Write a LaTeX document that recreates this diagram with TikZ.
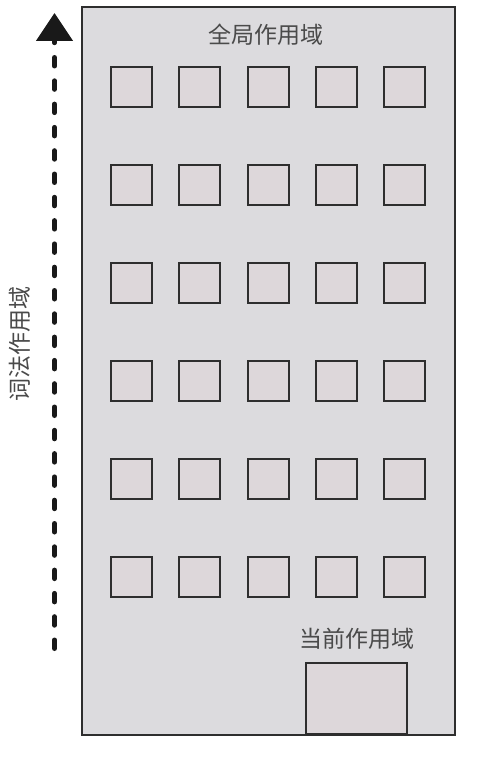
\documentclass[tikz,border=0pt]{standalone}
\usepackage{fontspec}
\newfontfamily\cjk{Noto Sans CJK SC}
\usetikzlibrary{arrows.meta}
\definecolor{wallfill}{HTML}{DCDBDE}
\definecolor{winfill}{HTML}{DDD7DA}
\definecolor{edge}{HTML}{2E2E2E}
\definecolor{txt}{HTML}{4A4A4A}
\tikzset{
  wall/.style={draw=edge, line width=2pt, fill=wallfill},
  win/.style={draw=edge, line width=2pt, fill=winfill},
  lbl/.style={font=\cjk\fontsize{23}{23}\selectfont, text=txt, inner sep=0pt},
  scopearrow/.style={line width=5pt, draw=black!90, line cap=round, dash pattern=on 8.5pt off 14.8pt, -{Triangle[length=28pt,width=36pt]}}
}
\begin{document}
\begin{tikzpicture}[x=1pt,y=-1pt]
\useasboundingbox (0,0) rectangle (492,757);
\fill[white] (0,0) rectangle (492,757);
\draw[wall] (82,7) rectangle (455,735);
\foreach \c in {0,...,4} {
  \foreach \r in {0,...,5} {
    \draw[win] ({111+68.3*\c},{67+98*\r}) rectangle ++(41,40);
  }
}
\node[draw=edge, line width=2pt, fill=winfill, minimum width=101pt, minimum height=71pt, inner sep=0pt, anchor=south] (door) at (356.5,735) {};
\node[lbl] (glob) at (266,35) {全局作用域};
\node[lbl] (cur) at (357,639) {当前作用域};
\node[lbl, rotate=90] (lex) at (20,344) {词法作用域};
\coordinate (abot) at (54.5,648.5);
\coordinate (atop) at (54.5,13);
\draw[scopearrow] (abot) -- (atop);
\end{tikzpicture}
\end{document}
